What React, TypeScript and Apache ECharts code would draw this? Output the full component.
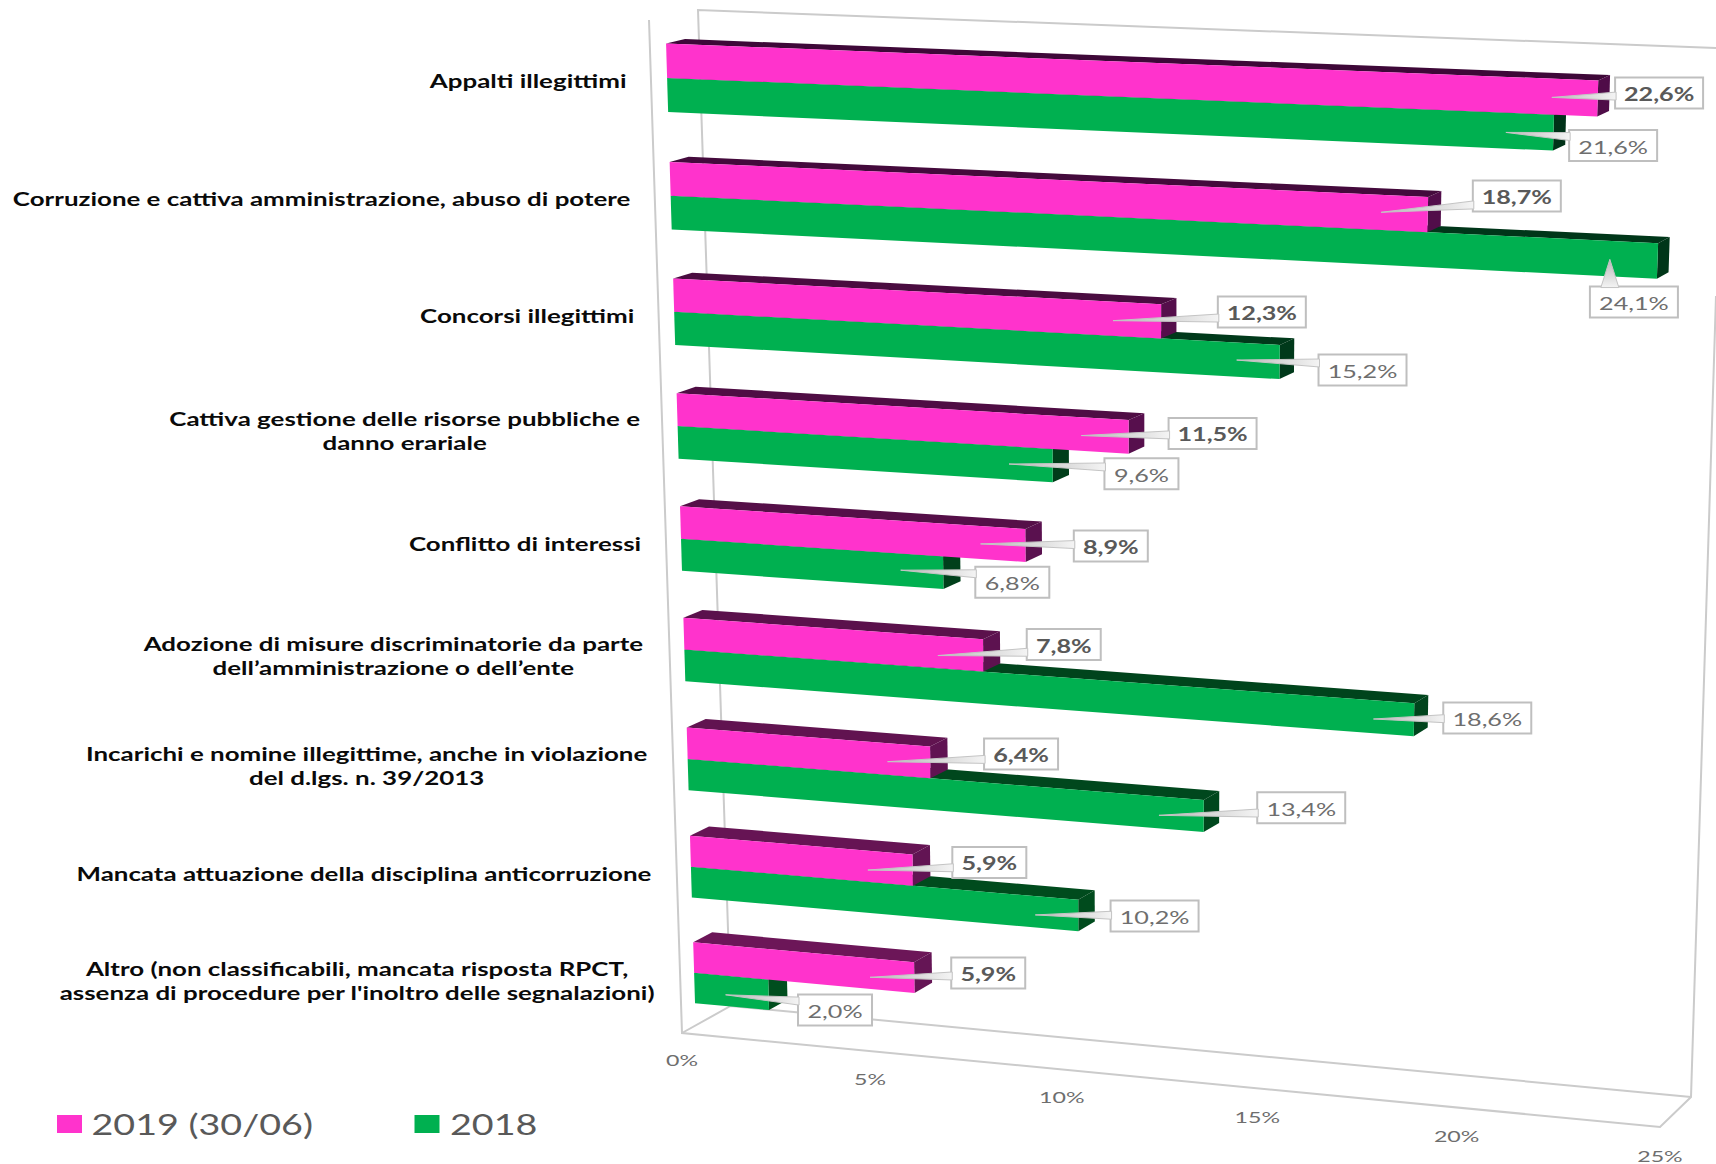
import React, { useEffect, useRef } from "react";
import * as echarts from "echarts";

const WIDTH = 1716;
const HEIGHT = 1164;

const categories = [
  "Appalti illegittimi",
  "Corruzione e cattiva amministrazione, abuso di potere",
  "Concorsi illegittimi",
  "Cattiva gestione delle risorse pubbliche e\ndanno erariale",
  "Conflitto di interessi",
  "Adozione di misure discriminatorie da parte\ndell’amministrazione o dell’ente",
  "Incarichi e nomine illegittime, anche in violazione\ndel d.lgs. n. 39/2013",
  "Mancata attuazione della disciplina anticorruzione",
  "Altro (non classificabili, mancata risposta RPCT,\nassenza di procedure per l'inoltro delle segnalazioni)",
];
const values2019 = [22.6, 18.7, 12.3, 11.5, 8.9, 7.8, 6.4, 5.9, 5.9];
const values2018 = [21.6, 24.1, 15.2, 9.6, 6.8, 18.6, 13.4, 10.2, 2.0];
const valueTicks = [0, 5, 10, 15, 20, 25];
const seriesNames = ["2019 (30/06)", "2018"];

// ---- layout only (not data) ----
const K = 1716 / 1568;
// callout [boxCx, boxCy, tipX, tipY] in the shrunk picture's coordinates
const callouts2019 = [
  [1516, 85, 1418, 89], [1386, 179, 1262, 194], [1153, 285, 1017, 293],
  [1108, 396, 988, 398], [1015, 499, 896, 497], [972, 589, 857, 599],
  [933, 689, 811, 696], [904, 788, 793, 795], [903, 889, 795, 893],
];
const callouts2018 = [
  [1474, 133, 1376, 121], [1493, 276, 1471, 237], [1245, 338, 1130, 329],
  [1043, 433, 922, 424], [925, 532, 823, 521], [1359, 656, 1255, 657],
  [1189, 738, 1059, 745], [1055, 837, 946, 836], [763, 923, 663, 909],
];
const labelHalfWidths = [100, 310, 108, 234, 117, 252, 282, 288, 298];

const FONT = "Lato";
const CAT_SCALE = 1.44;
const LABEL_SCALE = 1.4;

function homography(p00, p10, p11, p01) {
  const [x0, y0] = p00, [x1, y1] = p10, [x2, y2] = p11, [x3, y3] = p01;
  const dx1 = x1 - x2, dx2 = x3 - x2, sx = x0 - x1 + x2 - x3;
  const dy1 = y1 - y2, dy2 = y3 - y2, sy = y0 - y1 + y2 - y3;
  const den = dx1 * dy2 - dx2 * dy1;
  const g = (sx * dy2 - dx2 * sy) / den;
  const h = (dx1 * sy - sx * dy1) / den;
  const a = x1 - x0 + g * x1, b = x3 - x0 + h * x3;
  const d = y1 - y0 + g * y1, e = y3 - y0 + h * y3;
  return (u, t) => {
    const w = g * u + h * t + 1;
    return [(a * u + b * t + x0) / w, (d * u + e * t + y0) / w];
  };
}
const frontPlane = homography([665.3, 18.3], [1704, 58], [1665, 1117], [695.7, 1025.3]);

function depthAt(u, t) {
  const dx = (19 + (11 - 19) * u) * (1 - t) + (19 + (13 - 19) * u) * t;
  const dy = (-4.3 + (-5.5 + 4.3) * u) * (1 - t) + -10.5 * t;
  return [dx, dy];
}
const front = (px, py) => frontPlane(px / WIDTH, py / HEIGHT);
const back = (px, py) => {
  const p = front(px, py);
  const d = depthAt(px / WIDTH, py / HEIGHT);
  return [p[0] + d[0], p[1] + d[1]];
};

function mixColor(a, b, f) {
  const c = a.map((v, i) => Math.round(v + (b[i] - v) * f));
  return `rgb(${c[0]},${c[1]},${c[2]})`;
}

const palette = [
  { face: "#FF33CC", top: [[62, 8, 56], [108, 22, 88]], side: [[79, 12, 72], [101, 21, 85]] },
  { face: "#00B050", top: [[0, 50, 24], [0, 78, 30]], side: [[0, 50, 24], [0, 78, 30]] },
];

function bar3d(api, value, row, f0, f1, pal, z2) {
  const band = api.size([0, 1])[1];
  const c0 = api.coord([0, row]);
  const c1 = api.coord([value, row]);
  const yTop = c0[1] + f0 * band;
  const yBot = c0[1] + f1 * band;
  const f = row / (categories.length - 1);
  const tl = front(c0[0], yTop), tr = front(c1[0], yTop);
  const bl = front(c0[0], yBot), br = front(c1[0], yBot);
  const btl = back(c0[0], yTop), btr = back(c1[0], yTop), bbr = back(c1[0], yBot);
  return [
    { type: "polygon", z2, shape: { points: [tl, tr, btr, btl] }, style: { fill: mixColor(pal.top[0], pal.top[1], f) } },
    { type: "polygon", z2, shape: { points: [tr, br, bbr, btr] }, style: { fill: mixColor(pal.side[0], pal.side[1], f) } },
    { type: "polygon", z2, shape: { points: [tl, tr, br, bl] }, style: { fill: pal.face } },
  ];
}

function callout(layout, text, bold) {
  const cx = layout[0] * K, cy = layout[1] * K, tx = layout[2] * K, ty = layout[3] * K;
  const w = text.length > 4 ? 88 : 74, h = 31;
  const l = cx - w / 2, r = cx + w / 2, t = cy - h / 2, b = cy + h / 2;
  let base, grad;
  if (tx > l && ty < t) {
    const m = Math.max(l + 10, Math.min(r - 10, tx));
    base = [[m - 9, t + 1], [m + 9, t + 1]];
    grad = new echarts.graphic.LinearGradient(0, 0, 0, 1, [
      { offset: 0, color: "#B8B8B8" },
      { offset: 1, color: "#F4F4F4" },
    ]);
  } else {
    const m = cy + Math.max(-9, Math.min(9, (ty - cy) * 0.7));
    base = [[l + 1, m - 4], [l + 1, m + 4]];
    grad = new echarts.graphic.LinearGradient(0, 0, 1, 0, [
      { offset: 0, color: "#B8B8B8" },
      { offset: 1, color: "#F4F4F4" },
    ]);
  }
  return [
    { type: "rect", z2: 30, shape: { x: l, y: t, width: w, height: h }, style: { fill: "#FFFFFF", stroke: "#BFBFBF", lineWidth: 2 } },
    { type: "polygon", z2: 31, shape: { points: [[tx, ty], base[0], base[1]] }, style: { fill: grad, stroke: "#C4C4C4", lineWidth: 1 } },
    {
      type: "text", z2: 32, x: cx, y: cy + 1, scaleX: LABEL_SCALE,
      style: { text, align: "center", verticalAlign: "middle", fontFamily: FONT, fontSize: 18, fontWeight: bold ? 700 : 400, fill: bold ? "#595959" : "#6E6E6E" },
    },
  ];
}

const fmt = (v) => v.toFixed(1).replace(".", ",") + "%";

function barSeries(name, values, layout, pal, f0, f1, z2, bold) {
  return {
    type: "custom",
    name,
    z: 3,
    data: values.map((v, i) => [v, i]),
    encode: { x: 0, y: 1 },
    renderItem: (params, api) => {
      const v = api.value(0);
      const row = params.dataIndex;
      return {
        type: "group",
        children: [...bar3d(api, v, row, f0, f1, pal, z2), ...callout(layout[row], fmt(v), bold)],
      };
    },
  };
}

function buildOption() {
  const frameLines = [
    [[649, 20], [682, 1033], [1660, 1127], [1691, 1097], [1716, 296]],
    [[682, 1033], [730.5, 1006], [1691, 1097]],
    [[1716, 48], [698, 10], [730.5, 1006]],
  ];
  const legendItems = [
    { x: 57, tx: 91.5, color: "#FF33CC", text: seriesNames[0] },
    { x: 414.5, tx: 450, color: "#00B050", text: seriesNames[1] },
  ];
  return {
    animation: false,
    backgroundColor: "#FFFFFF",
    grid: { left: 0, right: 0, top: 0, bottom: 0 },
    xAxis: { type: "value", min: 0, max: 25, interval: 5, show: false },
    yAxis: { type: "category", inverse: true, data: categories, show: false },
    graphic: [
      ...frameLines.map((pts) => ({
        type: "polyline",
        shape: { points: pts },
        style: { stroke: "#CBCBCB", lineWidth: 2, fill: "none" },
        silent: true,
      })),
      ...legendItems.flatMap((it) => [
        { type: "rect", shape: { x: it.x, y: 1115, width: 25, height: 18 }, style: { fill: it.color } },
        {
          type: "text", x: it.tx, y: 1124, scaleX: 1.345,
          style: { text: it.text, align: "left", verticalAlign: "middle", fontFamily: FONT, fontSize: 28, fill: "#595959" },
        },
      ]),
    ],
    series: [
      barSeries(seriesNames[1], values2018, callouts2018, palette[1], 0, 0.2885, 10, false),
      barSeries(seriesNames[0], values2019, callouts2019, palette[0], -0.2885, 0, 20, true),
      {
        type: "custom",
        name: "categorie",
        z: 4,
        data: categories.map((c, i) => [0, i]),
        encode: { x: 0, y: 1 },
        renderItem: (params, api) => {
          const i = params.dataIndex;
          const c = api.coord([0, i]);
          const p = front(c[0], c[1]);
          return {
            type: "text",
            x: p[0] - 39 - labelHalfWidths[i],
            y: p[1] + 3 + i * 0.65,
            scaleX: CAT_SCALE,
            style: {
              text: categories[i], align: "center", verticalAlign: "middle",
              fontFamily: FONT, fontSize: 18, fontWeight: 700, lineHeight: 24, fill: "#0A0A0A",
            },
          };
        },
      },
      {
        type: "custom",
        name: "assi",
        z: 4,
        data: valueTicks.map((v) => [v, categories.length - 1]),
        encode: { x: 0, y: 1 },
        renderItem: (params, api) => {
          const v = api.value(0);
          const u = api.coord([v, 0])[0] / WIDTH;
          const x = 682 + (931.5 * u) / (1 - 0.0475 * u);
          const y = 1060 + (x - 682) * 0.0975;
          return {
            type: "text", x, y, scaleX: 1.45,
            style: { text: v + "%", align: "center", verticalAlign: "middle", fontFamily: FONT, fontSize: 16, fill: "#6E6E6E" },
          };
        },
      },
    ],
  };
}

export default function App() {
  const ref = useRef(null);
  useEffect(() => {
    document.body.style.margin = "0";
    const chart = echarts.init(ref.current, null, { renderer: "svg", width: WIDTH, height: HEIGHT });
    chart.setOption(buildOption());
    return () => chart.dispose();
  }, []);
  return <div ref={ref} style={{ width: WIDTH, height: HEIGHT }} />;
}
